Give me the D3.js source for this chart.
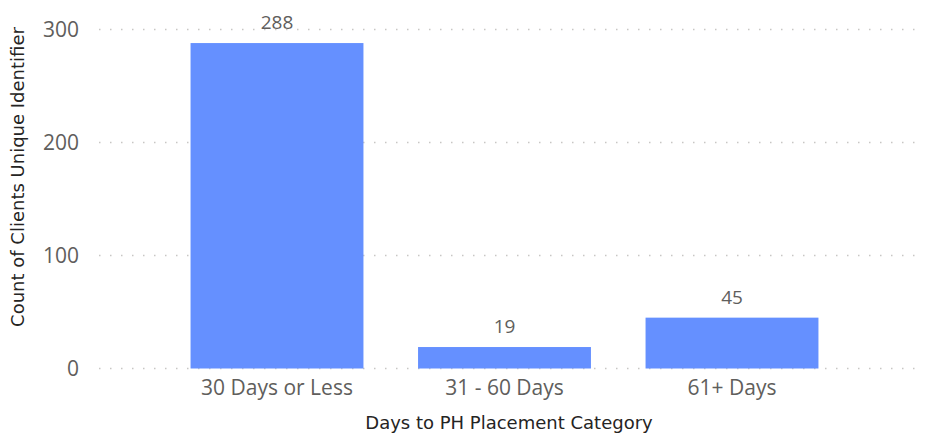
<!DOCTYPE html>
<html>
<head>
<meta charset="utf-8">
<script src="https://cdn.jsdelivr.net/npm/d3@7"></script>
<style>
  body { margin: 0; background: #fff; }
  svg { display: block; }
</style>
</head>
<body>
<svg id="chart" width="929" height="434"></svg>
<script>
// 데이터
var categories = ["30 Days or Less", "31 - 60 Days", "61+ Days"];
var counts = [288, 19, 45];
var yTicks = [0, 100, 200, 300];

var svg = d3.select("#chart");
var plotLeft = 99, plotRight = 918, plotTop = 29.5, plotBottom = 368.5;

// 막대 위치 (격자보다 약간 왼쪽으로)
var x = d3.scaleBand()
  .domain(categories)
  .range([plotLeft - 4, plotRight - 4])
  .paddingInner(0.24)
  .paddingOuter(0.42);

var y = d3.scaleLinear()
  .domain([0, 300])
  .range([plotBottom, plotTop]);

// 그리드 (점선)
svg.append("g")
  .selectAll("line")
  .data(yTicks)
  .enter()
  .append("line")
  .attr("x1", plotLeft)
  .attr("x2", plotRight)
  .attr("y1", function(d){ return y(d); })
  .attr("y2", function(d){ return y(d); })
  .attr("stroke", "#c8c6c4")
  .attr("stroke-width", 1.5)
  .attr("stroke-dasharray", "1.5,9.5");

// y축 눈금
var yAxis = svg.append("g")
  .attr("transform", "translate(" + (plotLeft - 20) + ",0)")
  .call(d3.axisLeft(y).tickValues(yTicks).tickSize(0).tickPadding(0));
yAxis.select(".domain").remove();
yAxis.selectAll("text")
  .attr("font-family", "'Open Sans', sans-serif")
  .attr("font-size", 21)
  .attr("fill", "#605e5c");

// 막대
svg.append("g")
  .selectAll("rect")
  .data(counts)
  .enter()
  .append("rect")
  .attr("x", function(d, i){ return x(categories[i]); })
  .attr("y", function(d){ return y(d); })
  .attr("width", x.bandwidth())
  .attr("height", function(d){ return y(0) - y(d); })
  .attr("fill", "#6590ff");

// 데이터 라벨
svg.append("g")
  .selectAll("text")
  .data(counts)
  .enter()
  .append("text")
  .attr("x", function(d, i){ return x(categories[i]) + x.bandwidth() / 2; })
  .attr("y", function(d){ return y(d) - 14; })
  .attr("text-anchor", "middle")
  .attr("font-family", "'Open Sans', sans-serif")
  .attr("font-size", 19)
  .attr("fill", "#605e5c")
  .text(function(d){ return d; });

// x축 라벨
var xAxis = svg.append("g")
  .attr("transform", "translate(0," + plotBottom + ")")
  .call(d3.axisBottom(x).tickSize(0).tickPadding(12));
xAxis.select(".domain").remove();
xAxis.selectAll("text")
  .attr("font-family", "'Open Sans', sans-serif")
  .attr("font-size", 21)
  .attr("fill", "#605e5c");

// 축 제목
svg.append("text")
  .attr("x", 509)
  .attr("y", 429)
  .attr("text-anchor", "middle")
  .attr("font-family", "'DejaVu Sans', sans-serif")
  .attr("font-size", 18)
  .attr("fill", "#252423")
  .text("Days to PH Placement Category");

svg.append("text")
  .attr("transform", "translate(24,177) rotate(-90)")
  .attr("text-anchor", "middle")
  .attr("font-family", "'DejaVu Sans', sans-serif")
  .attr("font-size", 18)
  .attr("fill", "#252423")
  .text("Count of Clients Unique Identifier");
</script>
</body>
</html>
